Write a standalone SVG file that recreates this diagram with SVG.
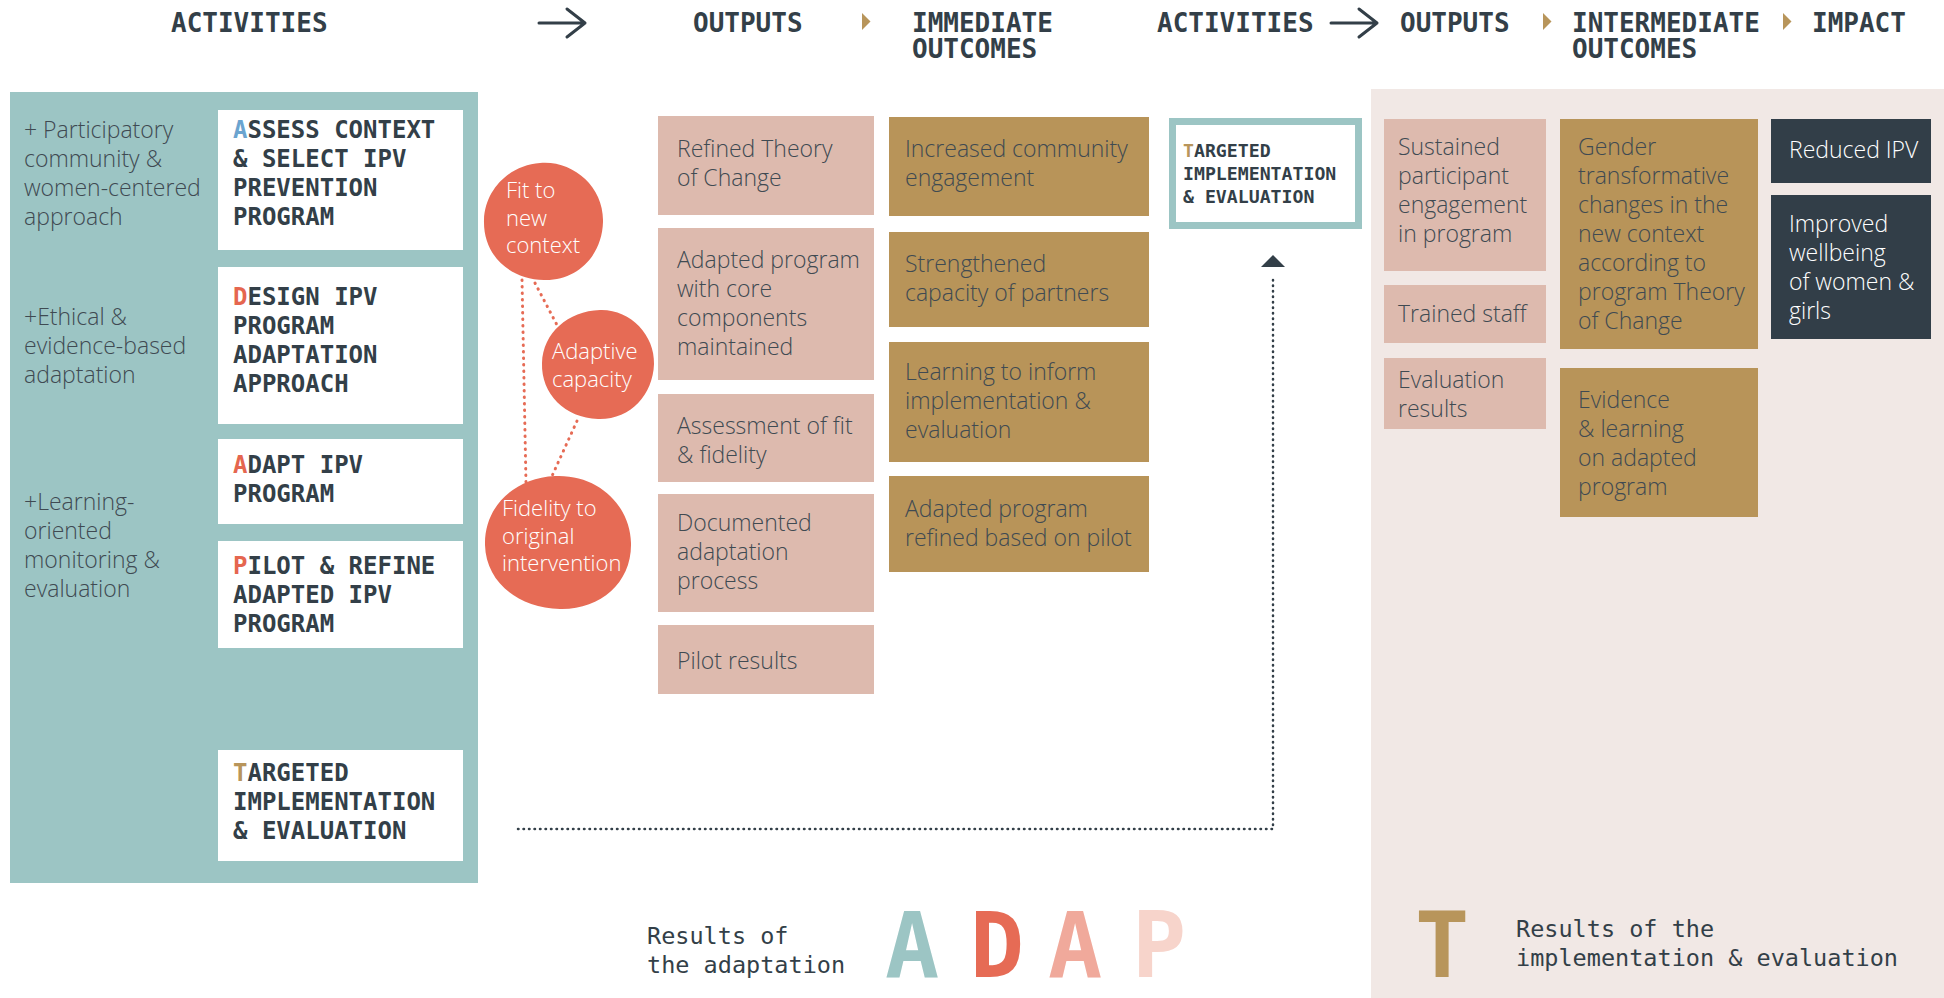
<svg xmlns="http://www.w3.org/2000/svg" width="1944" height="998" viewBox="0 0 1944 998">
<defs>
<style>
.hdr{font-family:"DejaVu Sans Mono","Liberation Mono",monospace;font-weight:bold;font-size:26px;fill:#333f48}
.act{font-family:"DejaVu Sans Mono","Liberation Mono",monospace;font-weight:bold;font-size:24px;fill:#333f48}
.act2{font-family:"DejaVu Sans Mono","Liberation Mono",monospace;font-weight:bold;font-size:18.2px;fill:#333f48}
.lt{font-family:"Open Sans","Noto Sans",sans-serif;font-weight:300;font-size:23px;fill:#3f4a52}
.wt{font-family:"Open Sans","Noto Sans",sans-serif;font-weight:300;font-size:23px;fill:#ffffff}
.ct{font-family:"Open Sans","Noto Sans",sans-serif;font-weight:300;font-size:22px;fill:#ffffff}
.leg{font-family:"DejaVu Sans Mono","Liberation Mono",monospace;font-size:23.5px;fill:#333f48}
.big{font-family:"DejaVu Sans Mono","Liberation Mono",monospace;font-weight:bold;font-size:90px;text-anchor:middle}
.wbox{fill:#ffffff}
.pink{fill:#ddbaae}
.gold{fill:#b89459}
.dark{fill:#323e48}
.blob{fill:#e66b55}
.tri{fill:#b8955b}
.hArrow{fill:none;stroke:#333f48;stroke-width:3;stroke-linecap:round;stroke-linejoin:round}
.dotR{fill:none;stroke:#e66b55;stroke-width:3;stroke-linecap:round;stroke-dasharray:0.5 6}
.dotD{fill:none;stroke:#333f48;stroke-width:2.5;stroke-linecap:round;stroke-dasharray:0.5 5}
.cA{fill:#6ba4cf}
.cR{fill:#e5664f}
.cT{fill:#b8955b}
</style>
</defs>

<!-- background panels -->
<rect x="0" y="0" width="1944" height="998" fill="#ffffff"/>
<rect id="teal-panel" x="10" y="92" width="468" height="791" fill="#9cc5c4"/>
<rect id="pale-panel" x="1371" y="89" width="573" height="909" fill="#f1e8e5"/>

<!-- header -->
<g id="header">
<text class="hdr" x="171" y="32">ACTIVITIES</text>
<path class="hArrow" d="M539 23 H585 M567 9 L585 23 L567 37"/>
<text class="hdr" x="693" y="32">OUTPUTS</text>
<path class="tri" d="M862 13 L870.5 21.5 L862 30 Z"/>
<text class="hdr" x="912" y="32">IMMEDIATE</text>
<text class="hdr" x="912" y="58">OUTCOMES</text>
<text class="hdr" x="1157" y="32">ACTIVITIES</text>
<path class="hArrow" d="M1331 23 H1377 M1359 9 L1377 23 L1359 37"/>
<text class="hdr" x="1400" y="32">OUTPUTS</text>
<path class="tri" d="M1543 13 L1551.5 21.5 L1543 30 Z"/>
<text class="hdr" x="1572" y="32">INTERMEDIATE</text>
<text class="hdr" x="1572" y="58">OUTCOMES</text>
<path class="tri" d="M1783 13 L1791.5 21.5 L1783 30 Z"/>
<text class="hdr" x="1812" y="32">IMPACT</text>
</g>

<!-- left principles -->
<g id="principles">
<text class="lt"><tspan x="24" y="138">+ Participatory</tspan><tspan x="24" y="167">community &amp;</tspan><tspan x="24" y="196">women-centered</tspan><tspan x="24" y="225">approach</tspan></text>
<text class="lt"><tspan x="24" y="325">+Ethical &amp;</tspan><tspan x="24" y="354">evidence-based</tspan><tspan x="24" y="383">adaptation</tspan></text>
<text class="lt"><tspan x="24" y="510">+Learning-</tspan><tspan x="24" y="539">oriented</tspan><tspan x="24" y="568">monitoring &amp;</tspan><tspan x="24" y="597">evaluation</tspan></text>
</g>

<!-- activity boxes -->
<g id="act-assess">
<rect class="wbox" x="218" y="110" width="245" height="140"/>
<text class="act"><tspan x="233" y="138"><tspan class="cA">A</tspan>SSESS CONTEXT</tspan><tspan x="233" y="167">&amp; SELECT IPV</tspan><tspan x="233" y="196">PREVENTION</tspan><tspan x="233" y="225">PROGRAM</tspan></text>
</g>
<g id="act-design">
<rect class="wbox" x="218" y="267" width="245" height="157"/>
<text class="act"><tspan x="233" y="305"><tspan class="cR">D</tspan>ESIGN IPV</tspan><tspan x="233" y="334">PROGRAM</tspan><tspan x="233" y="363">ADAPTATION</tspan><tspan x="233" y="392">APPROACH</tspan></text>
</g>
<g id="act-adapt">
<rect class="wbox" x="218" y="439" width="245" height="85"/>
<text class="act"><tspan x="233" y="473"><tspan class="cR">A</tspan>DAPT IPV</tspan><tspan x="233" y="502">PROGRAM</tspan></text>
</g>
<g id="act-pilot">
<rect class="wbox" x="218" y="541" width="245" height="107"/>
<text class="act"><tspan x="233" y="574"><tspan class="cR">P</tspan>ILOT &amp; REFINE</tspan><tspan x="233" y="603">ADAPTED IPV</tspan><tspan x="233" y="632">PROGRAM</tspan></text>
</g>
<g id="act-targeted">
<rect class="wbox" x="218" y="750" width="245" height="111"/>
<text class="act"><tspan x="233" y="781"><tspan class="cT">T</tspan>ARGETED</tspan><tspan x="233" y="810">IMPLEMENTATION</tspan><tspan x="233" y="839">&amp; EVALUATION</tspan></text>
</g>

<!-- connectors -->
<g id="connectors">
<path class="dotR" d="M522 280 L526 484"/>
<path class="dotR" d="M535 283 L557 325"/>
<path class="dotR" d="M577 421 L552 476"/>
<path class="dotD" d="M518 829 H1273 V278"/>
<path d="M1273 255 L1285 267 L1261 267 Z" fill="#333f48"/>
</g>

<!-- blobs -->
<g id="blob-fit">
<path class="blob" d="M540 163 C 572 160, 604 186, 603 222 C 602 256, 577 281, 544 280 C 510 279, 483 256, 484 220 C 485 189, 510 165, 540 163 Z"/>
<text class="ct"><tspan x="506" y="198">Fit to</tspan><tspan x="506" y="225.5">new</tspan><tspan x="506" y="253">context</tspan></text>
</g>
<g id="blob-adaptive">
<path class="blob" d="M600 310 C 630 309, 655 335, 654 364 C 653 395, 630 420, 598 419 C 565 418, 541 394, 542 363 C 543 333, 568 311, 600 310 Z"/>
<text class="ct"><tspan x="552" y="359">Adaptive</tspan><tspan x="552" y="386.5">capacity</tspan></text>
</g>
<g id="blob-fidelity">
<path class="blob" d="M555 476 C 598 474, 630 505, 631 543 C 632 583, 600 610, 560 609 C 518 608, 486 582, 485 545 C 484 507, 514 478, 555 476 Z"/>
<text class="ct"><tspan x="502" y="516">Fidelity to</tspan><tspan x="502" y="543.5">original</tspan><tspan x="502" y="571">intervention</tspan></text>
</g>

<!-- outputs (adaptation) -->
<g id="out-toc">
<rect class="pink" x="658" y="116" width="216" height="99"/>
<text class="lt"><tspan x="677" y="157">Refined Theory</tspan><tspan x="677" y="186">of Change</tspan></text>
</g>
<g id="out-adapted">
<rect class="pink" x="658" y="228" width="216" height="152"/>
<text class="lt"><tspan x="677" y="268">Adapted program</tspan><tspan x="677" y="297">with core</tspan><tspan x="677" y="326">components</tspan><tspan x="677" y="355">maintained</tspan></text>
</g>
<g id="out-assessment">
<rect class="pink" x="658" y="394" width="216" height="88"/>
<text class="lt"><tspan x="677" y="434">Assessment of fit</tspan><tspan x="677" y="463">&amp; fidelity</tspan></text>
</g>
<g id="out-documented">
<rect class="pink" x="658" y="494" width="216" height="118"/>
<text class="lt"><tspan x="677" y="531">Documented</tspan><tspan x="677" y="560">adaptation</tspan><tspan x="677" y="589">process</tspan></text>
</g>
<g id="out-pilot">
<rect class="pink" x="658" y="625" width="216" height="69"/>
<text class="lt"><tspan x="677" y="669">Pilot results</tspan></text>
</g>

<!-- immediate outcomes -->
<g id="imm-community">
<rect class="gold" x="889" y="117" width="260" height="99"/>
<text class="lt"><tspan x="905" y="157">Increased community</tspan><tspan x="905" y="186">engagement</tspan></text>
</g>
<g id="imm-capacity">
<rect class="gold" x="889" y="232" width="260" height="95"/>
<text class="lt"><tspan x="905" y="272">Strengthened</tspan><tspan x="905" y="301">capacity of partners</tspan></text>
</g>
<g id="imm-learning">
<rect class="gold" x="889" y="342" width="260" height="120"/>
<text class="lt"><tspan x="905" y="380">Learning to inform</tspan><tspan x="905" y="409">implementation &amp;</tspan><tspan x="905" y="438">evaluation</tspan></text>
</g>
<g id="imm-refined">
<rect class="gold" x="889" y="476" width="260" height="96"/>
<text class="lt"><tspan x="905" y="517">Adapted program</tspan><tspan x="905" y="546">refined based on pilot</tspan></text>
</g>

<!-- targeted implementation activity -->
<g id="act-targeted-2">
<rect x="1172.5" y="121.5" width="186" height="104" fill="#ffffff" stroke="#9cc5c4" stroke-width="7"/>
<text class="act2"><tspan x="1183" y="157"><tspan class="cT">T</tspan>ARGETED</tspan><tspan x="1183" y="180">IMPLEMENTATION</tspan><tspan x="1183" y="203">&amp; EVALUATION</tspan></text>
</g>

<!-- outputs (implementation) -->
<g id="out-sustained">
<rect class="pink" x="1384" y="119" width="162" height="152"/>
<text class="lt"><tspan x="1398" y="155">Sustained</tspan><tspan x="1398" y="184">participant</tspan><tspan x="1398" y="213">engagement</tspan><tspan x="1398" y="242">in program</tspan></text>
</g>
<g id="out-trained">
<rect class="pink" x="1384" y="285" width="162" height="58"/>
<text class="lt"><tspan x="1398" y="322">Trained staff</tspan></text>
</g>
<g id="out-evaluation">
<rect class="pink" x="1384" y="358" width="162" height="71"/>
<text class="lt"><tspan x="1398" y="388">Evaluation</tspan><tspan x="1398" y="417">results</tspan></text>
</g>

<!-- intermediate outcomes -->
<g id="int-gender">
<rect class="gold" x="1560" y="119" width="198" height="230"/>
<text class="lt"><tspan x="1578" y="155">Gender</tspan><tspan x="1578" y="184">transformative</tspan><tspan x="1578" y="213">changes in the</tspan><tspan x="1578" y="242">new context</tspan><tspan x="1578" y="271">according to</tspan><tspan x="1578" y="300">program Theory</tspan><tspan x="1578" y="329">of Change</tspan></text>
</g>
<g id="int-evidence">
<rect class="gold" x="1560" y="368" width="198" height="149"/>
<text class="lt"><tspan x="1578" y="408">Evidence</tspan><tspan x="1578" y="437">&amp; learning</tspan><tspan x="1578" y="466">on adapted</tspan><tspan x="1578" y="495">program</tspan></text>
</g>

<!-- impact -->
<g id="imp-ipv">
<rect class="dark" x="1771" y="119" width="160" height="64"/>
<text class="wt"><tspan x="1789" y="158">Reduced IPV</tspan></text>
</g>
<g id="imp-wellbeing">
<rect class="dark" x="1771" y="195" width="160" height="144"/>
<text class="wt"><tspan x="1789" y="232">Improved</tspan><tspan x="1789" y="261">wellbeing</tspan><tspan x="1789" y="290">of women &amp;</tspan><tspan x="1789" y="319">girls</tspan></text>
</g>

<!-- legend -->
<g id="legend">
<text class="leg"><tspan x="647" y="944">Results of</tspan><tspan x="647" y="973">the adaptation</tspan></text>
<text class="big" x="912" y="977" fill="#9cc5c4">A</text>
<text class="big" x="997" y="977" fill="#e66b55">D</text>
<text class="big" x="1075" y="977" fill="#f0a99b">A</text>
<text class="big" x="1159" y="977" fill="#f7d4cb">P</text>
<text class="big" x="1442" y="977" fill="#b8955b">T</text>
<text class="leg"><tspan x="1516" y="937">Results of the</tspan><tspan x="1516" y="966">implementation &amp; evaluation</tspan></text>
</g>
</svg>
